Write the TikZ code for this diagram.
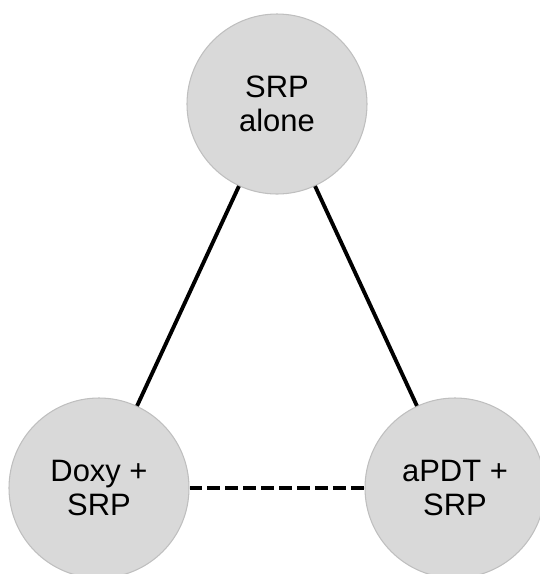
\documentclass[tikz,border=0pt]{standalone}
\usepackage{fontspec}
\setmainfont{Liberation Sans}
\usepackage{tikz}

\definecolor{armfill}{HTML}{D9D9D9}
\definecolor{armline}{HTML}{BFBFBF}

\tikzset{
	arm/.style={circle, fill=armfill, draw=armline, line width=0.6pt,
		minimum size=3.6cm, inner sep=0pt, align=center,
		font=\fontsize{17.6}{19.6}\selectfont},
	link/.style={black, line width=2.2pt},
	weaklink/.style={black, line width=2.2pt, dash pattern=on 7.2pt off 3pt}
}

\begin{document}
\begin{tikzpicture}
		\useasboundingbox (0,0) rectangle (10.8,-11.48);
		\node[arm] (srp) at (5.54,-2.08) {SRP\\alone};
		\node[arm] (doxy) at (1.98,-9.76) {Doxy +\\SRP};
		\node[arm] (apdt) at (9.10,-9.76) {aPDT +\\SRP};
		\draw[link] (srp)--(doxy);
		\draw[link] (srp)--(apdt);
		\draw[weaklink] (doxy)--(apdt);
	\end{tikzpicture}
\end{document}
